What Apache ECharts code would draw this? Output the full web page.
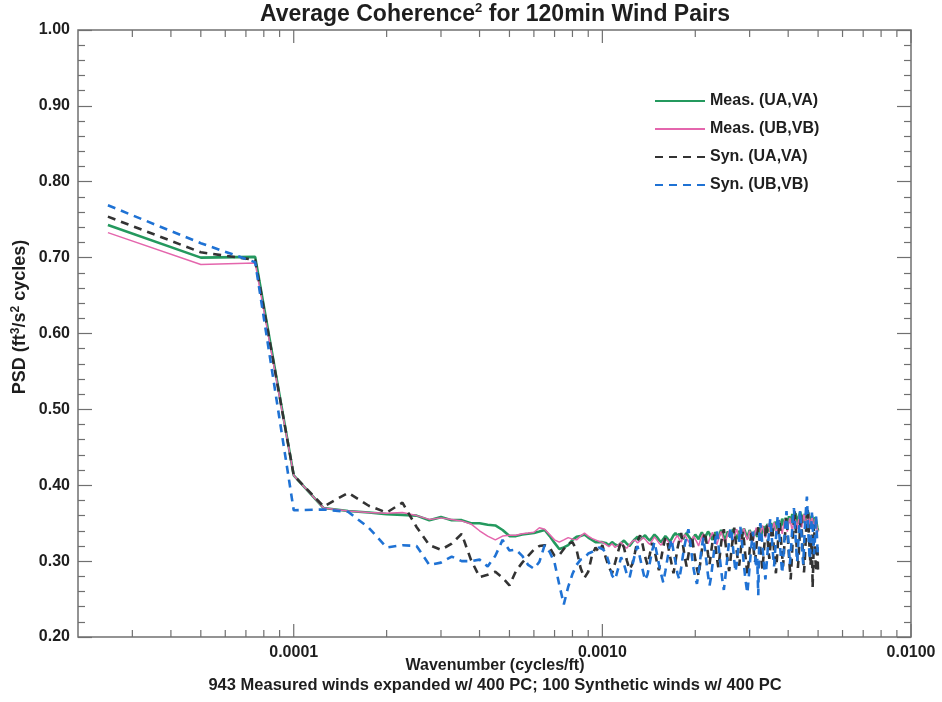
<!DOCTYPE html>
<html>
<head>
<meta charset="utf-8">
<script src="https://cdn.jsdelivr.net/npm/echarts@6/dist/echarts.min.js"></script>
<style>
  html, body { margin: 0; padding: 0; background: #fff; }
  #chart { width: 942px; height: 702px; }
</style>
</head>
<body>
<div id="chart"></div>
<script>
// Wavenumber bin width (cycles/ft); bin n sits at n * DK
const DK = 2.5e-5;

// Average squared coherence per wavenumber bin (bins 1..200)
const measUAVA = [
  .743,.700,.701,.413,.370,.366,.364,.362,.361,.360,
  .354,.358,.354,.354,.350,.350,.348,.347,.341,.333,
  .333,.335,.336,.337,.339,.341,.333,.324,.316,.318,
  .321,.328,.332,.333,.335,.331,.328,.325,.325,.325,
  .324,.321,.325,.322,.320,.324,.327,.323,.320,.325,
  .329,.332,.328,.331,.334,.330,.327,.331,.335,.332,
  .328,.325,.329,.333,.330,.326,.329,.334,.337,.333,
  .336,.332,.329,.334,.337,.333,.330,.326,.331,.335,
  .333,.329,.334,.338,.334,.330,.335,.339,.336,.331,
  .328,.333,.338,.334,.330,.336,.341,.337,.332,.329,
  .334,.339,.335,.331,.337,.342,.338,.333,.329,.335,
  .340,.336,.332,.338,.343,.339,.334,.330,.336,.341,
  .337,.333,.329,.335,.340,.336,.332,.338,.344,.340,
  .335,.341,.346,.342,.337,.343,.349,.344,.339,.345,
  .350,.345,.340,.346,.352,.347,.342,.348,.354,.349,
  .344,.350,.356,.351,.346,.352,.357,.353,.348,.354,
  .359,.355,.350,.356,.362,.357,.352,.358,.363,.359,
  .354,.349,.356,.361,.365,.360,.355,.350,.357,.362,
  .357,.352,.347,.354,.359,.364,.358,.353,.348,.355,
  .360,.356,.351,.346,.352,.358,.354,.349,.344,.340
];

const measUBVB = [
  .733,.691,.693,.413,.370,.366,.364,.363,.364,.360,
  .355,.357,.355,.353,.349,.340,.333,.328,.333,.334,
  .334,.336,.337,.338,.344,.342,.335,.328,.325,.328,
  .331,.329,.328,.333,.337,.333,.330,.328,.326,.325,
  .322,.319,.323,.318,.321,.325,.320,.317,.322,.326,
  .328,.324,.327,.331,.329,.325,.322,.327,.332,.328,
  .324,.321,.326,.330,.327,.323,.319,.325,.330,.334,
  .329,.325,.331,.335,.330,.326,.322,.328,.333,.329,
  .325,.320,.327,.332,.336,.331,.326,.323,.329,.334,
  .338,.332,.327,.322,.328,.334,.339,.333,.328,.324,
  .330,.336,.340,.334,.329,.325,.331,.337,.342,.336,
  .331,.326,.332,.338,.343,.337,.332,.328,.334,.340,
  .335,.330,.326,.332,.338,.344,.339,.334,.329,.336,
  .342,.347,.341,.336,.331,.337,.343,.349,.344,.338,
  .333,.339,.345,.351,.346,.340,.335,.341,.347,.352,
  .347,.341,.336,.343,.349,.355,.350,.344,.339,.346,
  .352,.357,.351,.345,.340,.347,.353,.359,.354,.348,
  .342,.349,.355,.361,.356,.350,.344,.351,.357,.362,
  .356,.350,.345,.352,.358,.363,.357,.351,.346,.353,
  .359,.354,.348,.343,.350,.356,.352,.346,.341,.338
];

const synUAVA = [
  .754,.707,.697,.413,.372,.390,.373,.364,.377,.345,
  .321,.315,.323,.336,.302,.279,.282,.286,.278,.268,
  .287,.298,.307,.315,.320,.321,.318,.307,.308,.316,
  .323,.325,.315,.291,.278,.286,.307,.318,.312,.321,
  .305,.292,.284,.298,.313,.326,.318,.301,.289,.296,
  .311,.327,.334,.322,.306,.295,.309,.324,.315,.300,
  .288,.303,.319,.331,.325,.310,.297,.284,.299,.316,
  .328,.337,.321,.305,.293,.308,.322,.333,.317,.302,
  .290,.281,.297,.314,.329,.338,.324,.309,.296,.311,
  .326,.335,.320,.304,.292,.306,.323,.336,.342,.327,
  .312,.298,.287,.301,.318,.331,.344,.329,.313,.300,
  .294,.309,.325,.339,.328,.311,.297,.283,.296,.314,
  .330,.341,.326,.310,.299,.315,.332,.345,.334,.317,
  .302,.289,.305,.322,.338,.349,.333,.316,.303,.318,
  .335,.347,.331,.313,.298,.284,.301,.320,.339,.352,
  .340,.322,.307,.293,.311,.330,.346,.358,.341,.323,
  .306,.290,.276,.295,.317,.338,.355,.366,.349,.327,
  .309,.291,.305,.326,.347,.362,.344,.321,.302,.285,
  .299,.320,.343,.360,.371,.352,.330,.311,.294,.312,
  .335,.265,.298,.348,.325,.303,.286,.301,.322,.281
];

const synUBVB = [
  .769,.719,.694,.367,.368,.365,.344,.318,.321,.320,
  .295,.298,.306,.300,.300,.302,.293,.307,.328,.314,
  .315,.307,.295,.290,.299,.321,.312,.298,.269,.243,
  .266,.283,.295,.302,.304,.310,.312,.315,.318,.316,
  .312,.298,.281,.276,.290,.305,.296,.283,.278,.294,
  .309,.320,.304,.289,.275,.282,.298,.314,.325,.311,
  .296,.283,.272,.287,.303,.318,.329,.313,.299,.284,
  .276,.291,.308,.322,.334,.342,.326,.307,.290,.278,
  .270,.285,.302,.319,.331,.315,.298,.281,.268,.279,
  .296,.313,.329,.340,.323,.305,.289,.274,.262,.277,
  .294,.311,.327,.344,.336,.318,.301,.286,.297,.314,
  .330,.345,.331,.312,.295,.280,.268,.258,.275,.293,
  .310,.326,.339,.324,.306,.291,.303,.255,.336,.350,
  .338,.321,.304,.289,.276,.292,.309,.327,.343,.356,
  .342,.324,.307,.293,.310,.329,.345,.360,.348,.331,
  .314,.298,.284,.300,.318,.337,.352,.366,.349,.330,
  .312,.296,.308,.326,.344,.359,.370,.352,.333,.315,
  .299,.314,.333,.351,.367,.349,.329,.310,.296,.318,
  .340,.358,.372,.385,.361,.338,.317,.302,.321,.345,
  .364,.348,.327,.309,.322,.343,.360,.339,.318,.305
];

const seriesNames = ['Meas. (UA,VA)', 'Meas. (UB,VB)', 'Syn. (UA,VA)', 'Syn. (UB,VB)'];

// Axis ticks and labels
const xMajorTicks = [1e-4, 1e-3, 1e-2];
const xTickLabels = ['0.0001', '0.0010', '0.0100'];
const xMinorTicks = [3e-5, 4e-5, 5e-5, 6e-5, 7e-5, 8e-5, 9e-5,
                     2e-4, 3e-4, 4e-4, 5e-4, 6e-4, 7e-4, 8e-4, 9e-4,
                     2e-3, 3e-3, 4e-3, 5e-3, 6e-3, 7e-3, 8e-3, 9e-3];
const X_MIN = 2e-5, X_MAX = 1e-2;
const Y_MIN = 0.2, Y_MAX = 1.0, Y_STEP = 0.1;

const FONT = '"Liberation Sans", Arial, Helvetica, sans-serif';
const AXIS_COLOR = '#707070';
const TEXT_COLOR = '#1e1e1e';

const pairs = vals => vals.map((v, i) => [(i + 1) * DK, v]);

const chart = echarts.init(document.getElementById('chart'), null, { renderer: 'canvas' });

function yAxisDef(position, showLabels) {
  return {
    type: 'value', position: position,
    min: Y_MIN, max: Y_MAX, interval: Y_STEP,
    axisLine: { show: false },
    axisTick: { show: true, inside: true, length: 14, lineStyle: { color: AXIS_COLOR, width: 1.2 } },
    minorTick: { show: true, splitNumber: 5, length: 7, lineStyle: { color: AXIS_COLOR, width: 1.2 } },
    splitLine: { show: false },
    axisLabel: {
      show: showLabels, margin: 8, color: TEXT_COLOR,
      fontFamily: FONT, fontWeight: 'bold', fontSize: 16,
      formatter: v => v.toFixed(2)
    }
  };
}

const tickItems = xMajorTicks.map(v => [v, 1]).concat(xMinorTicks.map(v => [v, 0]));

const option = {
  animation: false,
  backgroundColor: '#fff',
  grid: {
    left: 78, right: 31, top: 30, bottom: 65,
    show: true, borderColor: AXIS_COLOR, borderWidth: 1.5,
    backgroundColor: 'transparent',
    outerBoundsMode: 'none'
  },
  xAxis: {
    type: 'log', logBase: 10, min: X_MIN, max: X_MAX,
    axisLine: { show: false },
    axisTick: { show: false },
    splitLine: { show: false },
    axisLabel: {
      margin: 8, color: TEXT_COLOR,
      fontFamily: FONT, fontWeight: 'bold', fontSize: 16,
      showMinLabel: false,
      formatter: v => {
        const i = xMajorTicks.findIndex(t => Math.abs(Math.log10(v) - Math.log10(t)) < 1e-6);
        return i >= 0 ? xTickLabels[i] : '';
      }
    }
  },
  yAxis: [yAxisDef('left', true), yAxisDef('right', false)],
  legend: {
    data: seriesNames,
    orient: 'vertical',
    left: 654, top: 92, padding: 0,
    itemWidth: 50, itemHeight: 18, itemGap: 10,
    itemStyle: { opacity: 0 },
    textStyle: { color: TEXT_COLOR, fontFamily: FONT, fontWeight: 'bold', fontSize: 16, lineHeight: 18 }
  },
  graphic: [
    {
      type: 'text', x: 495, y: 15, silent: true,
      style: {
        text: '{a|Average Coherence}{s|2}{a| for 120min Wind Pairs}',
        align: 'center', verticalAlign: 'middle',
        rich: {
          a: { fontFamily: FONT, fontWeight: 'bold', fontSize: 23, fill: TEXT_COLOR, lineHeight: 26 },
          s: { fontFamily: FONT, fontWeight: 'bold', fontSize: 13, fill: TEXT_COLOR, verticalAlign: 'top', lineHeight: 13 }
        }
      }
    },
    {
      type: 'text', x: 20, y: 317, rotation: Math.PI / 2, silent: true,
      style: {
        text: '{a|PSD (ft}{s|3}{a|/s}{s|2}{a| cycles)}',
        align: 'center', verticalAlign: 'middle',
        rich: {
          a: { fontFamily: FONT, fontWeight: 'bold', fontSize: 18, fill: TEXT_COLOR, lineHeight: 20 },
          s: { fontFamily: FONT, fontWeight: 'bold', fontSize: 12, fill: TEXT_COLOR, verticalAlign: 'top', lineHeight: 12 }
        }
      }
    },
    {
      type: 'text', x: 495, y: 666, silent: true,
      style: {
        text: 'Wavenumber (cycles/ft)', align: 'center', verticalAlign: 'middle',
        fontFamily: FONT, fontWeight: 'bold', fontSize: 16, fill: TEXT_COLOR
      }
    },
    {
      type: 'text', x: 495, y: 685, silent: true,
      style: {
        text: '943 Measured winds expanded w/ 400 PC; 100 Synthetic winds w/ 400 PC',
        align: 'center', verticalAlign: 'middle',
        fontFamily: FONT, fontWeight: 'bold', fontSize: 16.5, fill: TEXT_COLOR
      }
    }
  ],
  series: [
    {
      name: seriesNames[0], type: 'line', data: pairs(measUAVA),
      showSymbol: false, symbol: 'none', z: 2,
      lineStyle: { color: '#24995e', width: 2.6 }, itemStyle: { color: '#24995e' }
    },
    {
      name: seriesNames[1], type: 'line', data: pairs(measUBVB),
      showSymbol: false, symbol: 'none', z: 3,
      lineStyle: { color: '#e466ad', width: 1.5 }, itemStyle: { color: '#e466ad' }
    },
    {
      name: seriesNames[2], type: 'line', data: pairs(synUAVA),
      showSymbol: false, symbol: 'none', z: 4,
      lineStyle: { color: '#333333', width: 2.6, type: [8, 6] }, itemStyle: { color: '#333333' }
    },
    {
      name: seriesNames[3], type: 'line', data: pairs(synUBVB),
      showSymbol: false, symbol: 'none', z: 5,
      lineStyle: { color: '#1f72d4', width: 2.6, type: [8, 6] }, itemStyle: { color: '#1f72d4' }
    },
    {
      // log-axis tick marks, mirrored on the top edge of the frame
      name: 'xticks', type: 'custom', silent: true, clip: false, z: 6,
      data: tickItems,
      renderItem: (params, api) => {
        const v = api.value(0);
        const bottom = api.coord([v, Y_MIN]);
        const top = api.coord([v, Y_MAX]);
        const len = api.value(1) ? 13 : 7;
        const st = { stroke: AXIS_COLOR, lineWidth: 1.2 };
        return {
          type: 'group',
          children: [
            { type: 'line', shape: { x1: bottom[0], y1: bottom[1], x2: bottom[0], y2: bottom[1] - len }, style: st },
            { type: 'line', shape: { x1: top[0], y1: top[1], x2: top[0], y2: top[1] + len }, style: st }
          ]
        };
      }
    }
  ]
};

chart.setOption(option);
</script>
</body>
</html>
